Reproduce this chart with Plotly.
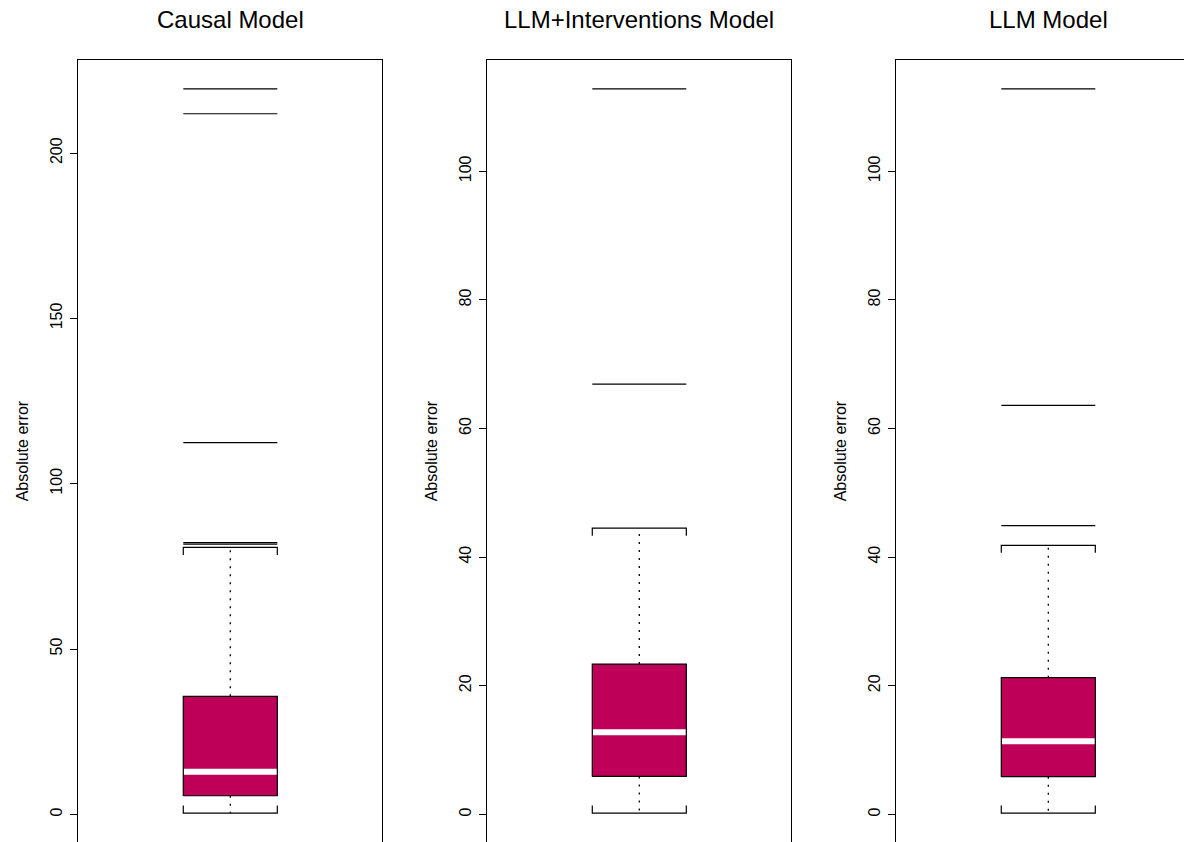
import plotly.graph_objects as go

# ---- summary statistics of absolute error per model ----
model_names = ["Causal Model", "LLM+Interventions Model", "LLM Model"]
whisker_low = [0.39, 0.2, 0.2]
q1_values = [5.62, 5.9, 5.85]
median_values = [12.88, 12.75, 11.35]
q3_values = [35.68, 23.37, 21.25]
whisker_high = [80.74, 44.5, 41.83]
outliers_causal = [81.7, 82.2, 112.4, 211.9, 219.4]
outliers_llm_int = [66.9, 112.8]
outliers_llm = [44.88, 63.6, 112.8]
outlier_sets = [outliers_causal, outliers_llm_int, outliers_llm]
tick_sets = [[0, 50, 100, 150, 200], [0, 20, 40, 60, 80, 100], [0, 20, 40, 60, 80, 100]]
y_label = "Absolute error"

# ---- page geometry (pixels) ----
W, H = 1184, 842
PLOT_TOP = 60
PANEL_W = 304
panel_left = [78.3, 487.3, 896.3]
X_SPAN = 1.08           # x units across a full panel (centre at 1)
BOX_HALF = 0.167        # half width of box in x units
CAP_TICK_PX = 7.5       # length of the little end marks on whisker caps
FILL = "rgb(190,0,89)"
FONT = "Liberation Sans, Arial, sans-serif"

fig = go.Figure()
layout_axes = {}
annotations = []
plot_h = H - PLOT_TOP

for i in range(3):
    xa = "x" if i == 0 else f"x{i+1}"
    ya = "y" if i == 0 else f"y{i+1}"
    left = panel_left[i]
    right_full = left + PANEL_W
    right_vis = min(right_full, W)
    x0 = 1 - X_SPAN / 2
    x1 = x0 + X_SPAN * (right_vis - left) / PANEL_W

    vals = [whisker_low[i], whisker_high[i]] + outlier_sets[i]
    lo, hi = min(vals), max(vals)
    ext = 0.04 * (hi - lo)
    ymin, ymax = lo - ext, hi + ext
    unit_per_px = (ymax - ymin) / plot_h
    cap_tick = CAP_TICK_PX * unit_per_px

    xl, xr = 1 - BOX_HALF, 1 + BOX_HALF
    q1, med, q3 = q1_values[i], median_values[i], q3_values[i]
    wl, wh = whisker_low[i], whisker_high[i]

    # box fill
    fig.add_trace(go.Scatter(x=[xl, xr, xr, xl, xl], y=[q1, q1, q3, q3, q1],
                             fill="toself", fillcolor=FILL, mode="none",
                             xaxis=xa, yaxis=ya, hoverinfo="skip"))
    # median
    fig.add_trace(go.Scatter(x=[xl, xr], y=[med, med], mode="lines",
                             line=dict(color="white", width=6),
                             xaxis=xa, yaxis=ya, hoverinfo="skip"))
    # box outline
    fig.add_trace(go.Scatter(x=[xl, xr, xr, xl, xl], y=[q1, q1, q3, q3, q1],
                             mode="lines", line=dict(color="black", width=1.2),
                             xaxis=xa, yaxis=ya, hoverinfo="skip"))
    # dotted whiskers
    fig.add_trace(go.Scatter(x=[1, 1, None, 1, 1], y=[q3, wh, None, q1, wl],
                             mode="lines", line=dict(color="black", width=1.3, dash="2px,6px"),
                             xaxis=xa, yaxis=ya, hoverinfo="skip"))
    # caps with end marks
    fig.add_trace(go.Scatter(
        x=[xl, xl, xr, xr, None, xl, xl, xr, xr],
        y=[wh - cap_tick, wh, wh, wh - cap_tick, None, wl + cap_tick, wl, wl, wl + cap_tick],
        mode="lines", line=dict(color="black", width=1.2),
        xaxis=xa, yaxis=ya, hoverinfo="skip"))
    # outliers drawn as horizontal dashes
    ox, oy = [], []
    for v in outlier_sets[i]:
        ox += [xl, xr, None]
        oy += [v, v, None]
    fig.add_trace(go.Scatter(x=ox, y=oy, mode="lines",
                             line=dict(color="black", width=1.2),
                             xaxis=xa, yaxis=ya, hoverinfo="skip"))

    xkey = "xaxis" if i == 0 else f"xaxis{i+1}"
    ykey = "yaxis" if i == 0 else f"yaxis{i+1}"
    layout_axes[xkey] = dict(
        domain=[left / W, right_vis / W], range=[x0, x1], anchor=ya,
        side="top", showline=True, linecolor="black", linewidth=1,
        showticklabels=False, ticks="", showgrid=False, zeroline=False, fixedrange=True)
    layout_axes[ykey] = dict(
        domain=[0, (H - PLOT_TOP) / H], range=[ymin, ymax], anchor=xa,
        showline=True, linecolor="black", linewidth=1,
        mirror=(right_full <= W), ticks="outside", ticklen=7, tickcolor="black",
        tickvals=tick_sets[i], tickangle=-90, ticklabelstandoff=2,
        tickfont=dict(family=FONT, size=16, color="black"),
        showgrid=False, zeroline=False, fixedrange=True)

    centre = left + PANEL_W / 2
    annotations.append(dict(text=model_names[i], xref="paper", yref="paper",
                            x=centre / W, y=1 - 19.5 / H, xanchor="center", yanchor="middle",
                            showarrow=False, font=dict(family=FONT, size=24, color="black")))
    annotations.append(dict(text=y_label, xref="paper", yref="paper",
                            x=(left - 56) / W, y=1 - ((PLOT_TOP + H) / 2) / H,
                            xanchor="center", yanchor="middle", textangle=-90,
                            showarrow=False, font=dict(family=FONT, size=16, color="black")))

fig.update_layout(
    width=W, height=H, margin=dict(l=0, r=0, t=0, b=0),
    paper_bgcolor="white", plot_bgcolor="white", showlegend=False,
    annotations=annotations, **layout_axes)

fig.write_html("out.html", config={"displayModeBar": False})
